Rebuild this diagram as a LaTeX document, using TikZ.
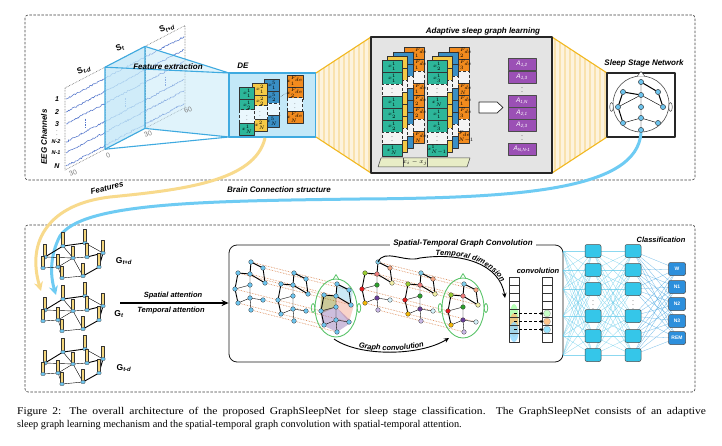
\documentclass[tikz,border=0pt]{standalone}
\usepackage{fontspec}
\setmainfont{Liberation Serif}
\setsansfont{Liberation Sans}
\usetikzlibrary{arrows.meta,shapes.geometric,decorations.pathmorphing,decorations.text,calc}
\definecolor{eegblue}{HTML}{5577CC}
\definecolor{boxblue}{HTML}{C3E8F8}
\definecolor{edgeblue}{HTML}{3FAAE0}
\definecolor{cream}{HTML}{FDF3DE}
\definecolor{creamline}{HTML}{F9E2AE}
\definecolor{goldline}{HTML}{F2B81F}
\definecolor{cgreen}{HTML}{2DB69A}
\definecolor{cyellow}{HTML}{F5C945}
\definecolor{cblue}{HTML}{3A8FC5}
\definecolor{corange}{HTML}{F28B1E}
\definecolor{cpurple}{HTML}{9B50B5}
\definecolor{graybox}{HTML}{E4E4E4}
\definecolor{nodeblue}{HTML}{6CC4EE}
\definecolor{featyellow}{HTML}{F8DA8C}
\definecolor{brainblue}{HTML}{6ECBF3}
\definecolor{barfill}{HTML}{F4D67C}
\definecolor{dotorange}{HTML}{D9824A}
\definecolor{headgreen}{HTML}{5BC46A}
\definecolor{nncyan}{HTML}{35C6E9}
\definecolor{nnline}{HTML}{5CC8EA}
\definecolor{outblue}{HTML}{2C8FDC}
\definecolor{barpale}{HTML}{E8EDC6}
\definecolor{kT}{HTML}{7FCDEB}
\definecolor{kUR}{HTML}{F4A582}
\definecolor{kC}{HTML}{F07C7C}
\definecolor{kUL}{HTML}{9ACD32}
\definecolor{kR}{HTML}{F2F0A6}
\definecolor{kM}{HTML}{2CA02C}
\definecolor{kL}{HTML}{E31A1C}
\definecolor{kLM}{HTML}{6A3D9A}
\definecolor{kLR}{HTML}{D4F1F9}
\definecolor{kLL}{HTML}{F2B705}
\definecolor{kB}{HTML}{C9B8E6}
\definecolor{polyblue}{HTML}{8FD0EA}
\definecolor{polyolive}{HTML}{8C8A1E}
\definecolor{polysalmon}{HTML}{F0937A}
\definecolor{polypurple}{HTML}{7D55A8}
\newcommand\arcfont{\sffamily\bfseries\itshape\fontsize{7.5}{9}\selectfont}
\tikzset{
  lbl/.style={font=\sffamily\bfseries\itshape\fontsize{8}{9}\selectfont, inner sep=1pt},
  slbl/.style={font=\sffamily\bfseries\fontsize{8.5}{9}\selectfont, inner sep=1pt},
  chl/.style={font=\sffamily\bfseries\itshape\fontsize{7}{8}\selectfont, inner sep=0.5pt},
  axl/.style={font=\sffamily\fontsize{7}{8}\selectfont, text=black!50, inner sep=0.5pt},
  dashbox/.style={dash pattern=on 2.5pt off 1.5pt, draw=black!75, line width=0.6pt, rounded corners=3pt},
  decell/.style={draw=black!80, line width=0.45pt, minimum width=15pt, minimum height=12pt, inner sep=0pt, font=\fontsize{5}{6}\selectfont},
  dotc/.style={fill=white!65!boxblue, densely dashed},
  acell/.style={draw=black!80, line width=0.45pt, minimum width=20pt, minimum height=12pt, inner sep=0pt},
  dotcell/.style={fill=graybox!40!white, densely dashed},
  arow0/.style={}, arow1/.style={}, arow2/.style={dotcell}, arow3/.style={},
  arow4/.style={}, arow5/.style={}, arow6/.style={dotcell}, arow7/.style={},
  acelltxt/.style={font=\fontsize{4.5}{5}\selectfont, inner sep=0pt},
  pcell/.style={draw=black!70, fill=cpurple, line width=0.45pt, minimum width=28pt, minimum height=12pt, inner sep=0pt, text=white, font=\sffamily\itshape\fontsize{6.5}{7}\selectfont},
  snode/.style={circle, draw=black!75, fill=nodeblue, line width=0.4pt, minimum size=5pt, inner sep=0pt},
  bnode/.style={circle, draw=black!75, line width=0.35pt, minimum size=4.6pt, inner sep=0pt},
  gbar/.style={rectangle, fill=barfill, draw=black!80, line width=0.35pt, minimum width=3pt, inner sep=0pt},
  gdot/.style={ellipse, fill=nodeblue, draw=black!70, line width=0.3pt, minimum width=4.5pt, minimum height=3.5pt, inner sep=0pt},
  nnbox/.style={draw=black!70, fill=nncyan, rounded corners=2pt, line width=0.5pt, minimum width=16pt, minimum height=13pt, inner sep=0pt},
  outbox/.style={draw=black!70, fill=outblue, rounded corners=2pt, line width=0.5pt, minimum width=17pt, minimum height=13pt, inner sep=0pt, text=white, font=\sffamily\bfseries\fontsize{5}{6}\selectfont},
  nnl/.style={draw=nnline, line width=0.3pt, opacity=0.7},
  orl/.style={draw=dotorange, densely dotted, line width=0.6pt},
  thickedge/.style={line width=0.9pt},
  thinedge/.style={line width=0.4pt},
}
\def\plaincols{T/nodeblue,UR/nodeblue,C/nodeblue,UL/nodeblue,R/nodeblue,M/nodeblue,L/nodeblue,LM/nodeblue,LR/nodeblue,LL/nodeblue,B/nodeblue}
\def\richcols{T/kT,UR/kUR,C/kC,UL/kUL,R/kR,M/kM,L/kL,LM/kLM,LR/kLR,LL/kLL,B/kB}
\newcommand\brainpts[3]{%
 \begin{scope}[shift={(#1,#2)}]
  \coordinate (#3T) at (0,0);
  \coordinate (#3UR) at (12,6);
  \coordinate (#3C) at (-1,12);
  \coordinate (#3UL) at (-13,11);
  \coordinate (#3R) at (14,21);
  \coordinate (#3M) at (-1,23);
  \coordinate (#3L) at (-16,27);
  \coordinate (#3LM) at (-1,36);
  \coordinate (#3LR) at (12,38);
  \coordinate (#3LL) at (-13,41);
  \coordinate (#3B) at (0,48);
 \end{scope}}
\newcommand\brainlinks[2]{%
 \draw[thickedge] (#1T)--(#1C)--(#1UL)--(#1L)--(#1LL) (#1T)--(#1UR)--(#1R) (#1C)--(#1R);
 \draw[thinedge] (#1C)--(#1M)--(#1LM)--(#1B) (#1M)--(#1L) (#1LM)--(#1LR) (#1LL)--(#1LM);
 \foreach \n/\c in #2 {\node[bnode, fill=\c] (#1\n o) at (#1\n) {};}}
\newcommand\ggraph[3]{%
 \begin{scope}[shift={(#1,#2)}]
  \coordinate (#3a) at (0,0);
  \coordinate (#3b) at (18,-11);
  \coordinate (#3c) at (28,1);
  \coordinate (#3d) at (40,-14);
  \coordinate (#3e) at (42,0);
  \coordinate (#3f) at (58,-4);
  \coordinate (#3g) at (13,10);
  \coordinate (#3h) at (17,21);
  \coordinate (#3i) at (38,19);
  \coordinate (#3j) at (54,10);
  \coordinate (#3k) at (-2,11);
 \end{scope}
 \draw[line width=0.9pt] (#3a)--(#3b)--(#3d) (#3e)--(#3f) (#3i)--(#3j)--(#3f) (#3a)--(#3k);
 \draw[line width=0.4pt] (#3a)--(#3c)--(#3e) (#3b)--(#3c) (#3d)--(#3f) (#3k)--(#3g)--(#3c) (#3g)--(#3h)--(#3i) (#3c)--(#3i) (#3d)--(#3e);
 \foreach \n/\h in {d/14,b/14,f/13,a/13,c/12,e/14,k/12,g/13,j/14,i/13,h/12}{%
   \node[gbar, minimum height=\h pt, anchor=south] (#3\n bar) at (#3\n) {};
   \node[gdot] (#3\n dot) at (#3\n) {};}}
\newcommand\adgroup[4]{%
 \foreach \r in {0,...,7}{\node[acell, fill=corange, arow\r] (#2o\r) at ({#1+22},{53+12*\r}) {};}
 \foreach \r/\s in {#4}{\node[acelltxt] at ($(#2o\r.east)+(-5,0)$) {$x^{F_{de}}_{\s}$};}
 \foreach \r in {0,...,7}{\node[acell, fill=cblue, arow\r] (#2b\r) at ({#1+11},{58+12*\r}) {};}
 \foreach \r in {0,...,7}{\node[acell, fill=cyellow, arow\r] (#2y\r) at ({#1+5},{62+12*\r}) {};}
 \foreach \r in {0,...,7}{\node[acell, fill=cgreen, arow\r] (#2g\r) at (#1,{66+12*\r}) {};}
 \foreach \r/\s in {#3}{\node[acelltxt, font=\fontsize{5.5}{6}\selectfont] at (#2g\r) {$x^{1}_{\s}$};}
 \foreach \r in {2,6}{\node[acelltxt, font=\fontsize{6}{6}\selectfont] at (#2g\r) {$\vdots$};}}
\begin{document}
\begin{tikzpicture}[x=1pt,y=-1pt,line join=round]
\useasboundingbox (0,0) rectangle (722,446);
\fill[white] (0,0) rectangle (722,446);

% frames
\draw[dashbox] (25,15) rectangle (695,180);
\draw[dashbox] (25,225) rectangle (695,392);

%%%%% EEG planes
\coordinate (pTL) at (65,88); \coordinate (pTR) at (185,25.6);
\coordinate (pBR) at (185,107.6); \coordinate (pBL) at (65,170);
\foreach \o in {11,24,36,54,65,78}{
  \draw[eegblue, line width=0.55pt, decorate, decoration={random steps, segment length=1.2pt, amplitude=0.8pt}] (66,{88+\o}) -- (184,{25.6+\o});
}
\foreach \xx in {85,125,165}{
  \draw[eegblue, densely dotted, line width=0.7pt] (\xx,{88-0.52*(\xx-65)+41}) -- (\xx,{88-0.52*(\xx-65)+50});
}
\draw[densely dotted, black!60, line width=0.6pt] (pTL)--(pTR)--(pBR)--(pBL)--cycle;
\draw[densely dotted, black!60, line width=0.6pt] (105,67.2)--(105,149.2) (145,46.4)--(145,128.4);

% feature extraction prism
\fill[boxblue, opacity=0.5] (105,67.2)--(145,46.4)--(229,73)--(229,137)--(145,128.4)--(105,149.2)--cycle;
\fill[boxblue, opacity=0.55] (105,67.2)--(145,46.4)--(145,128.4)--(105,149.2)--cycle;
\draw[edgeblue, line width=1.1pt] (105,67.2)--(145,46.4)--(145,128.4)--(105,149.2)--cycle;
\draw[edgeblue, line width=1.1pt] (105,67.2)--(229,73) (145,46.4)--(229,73) (105,149.2)--(229,137) (145,128.4)--(229,137);

% labels of EEG part
\node[slbl, rotate=22] (slA) at (84,70) {S\textsubscript{\itshape t-d}};
\node[slbl, rotate=22] (slB) at (120,48) {S\textsubscript{\itshape t}};
\node[slbl, rotate=22] (slC) at (167,28) {S\textsubscript{\itshape t+d}};
\node[chl] (ch1) at (57,99) {1};
\node[chl] (ch2) at (57,112) {2};
\node[chl] (ch3) at (57,124) {3};
\node[chl, font=\fontsize{5}{5}\selectfont] (chd) at (57,132) {$\vdots$};
\node[chl, font=\sffamily\bfseries\itshape\fontsize{5.5}{6}\selectfont] (ch4) at (56,142) {N-2};
\node[chl, font=\sffamily\bfseries\itshape\fontsize{5.5}{6}\selectfont] (ch5) at (56,153) {N-1};
\node[chl] (ch6) at (57,166) {N};
\node[lbl, rotate=90] (eegl) at (44,137) {EEG Channels};
\node[axl, rotate=25] (ax0) at (108,155) {0};
\node[axl, rotate=25] (ax30) at (148,134) {30};
\node[axl, rotate=25] (ax60) at (188,110) {60};
\node[axl, rotate=25] (axm) at (73,173) {30};
\node[lbl] (fe) at (168,67) {Feature extraction};

%%%%% DE box
\node[draw=edgeblue, fill=boxblue, line width=1.1pt, minimum width=87pt, minimum height=64pt, inner sep=0pt] (de) at (272.5,105) {};
\node[lbl] (delbl) at (243,66) {DE};
\node[decell, fill=cblue] (deb1) at (272,85) {$x^{5}_{1}$};
\node[decell, fill=cblue] (deb2) at (272,97) {$x^{5}_{2}$};
\node[decell, dotc] (deb3) at (272,109) {};
\node[decell, fill=cblue] (deb4) at (272,121) {$x^{5}_{N}$};
\node[decell, fill=cyellow] (dey1) at (260,89) {$x^{2}_{1}$};
\node[decell, fill=cyellow] (dey2) at (260,101) {$x^{2}_{2}$};
\node[decell, dotc] (dey3) at (260,113) {$\vdots$};
\node[decell, fill=cyellow] (dey4) at (260,125) {$x^{2}_{N}$};
\node[decell, fill=cgreen] (deg1) at (247,93) {$x^{1}_{1}$};
\node[decell, fill=cgreen] (deg2) at (247,105) {$x^{1}_{2}$};
\node[decell, dotc] (deg3) at (247,117) {$\vdots$};
\node[decell, fill=cgreen] (deg4) at (247,129) {$x^{1}_{N}$};
\node[decell, fill=corange] (deo1) at (295,81) {$x^{F_{de}}_{1}$};
\node[decell, fill=corange] (deo2) at (295,93) {$x^{F_{de}}_{2}$};
\node[decell, dotc] (deo3) at (295,105) {$\vdots$};
\node[decell, fill=corange] (deo4) at (295,117) {$x^{F_{de}}_{N}$};
\draw[densely dotted, black!70, line width=0.5pt] (deb2.east) -- (deo2.west);

%%%%% cream frustums
\begin{scope}
 \clip (316,73)--(371,37)--(371,173)--(316,137)--cycle;
 \fill[cream] (316,37) rectangle (371,173);
 \foreach \xx in {319,324,...,371}{\draw[creamline, line width=1.6pt] (\xx,37)--(\xx,173);}
\end{scope}
\draw[goldline, line width=1.1pt] (316,73)--(371,37) (316,137)--(371,173);
\begin{scope}
 \clip (552,37)--(607,73)--(607,137)--(552,173)--cycle;
 \fill[cream] (552,37) rectangle (607,173);
 \foreach \xx in {555,560,...,607}{\draw[creamline, line width=1.6pt] (\xx,37)--(\xx,173);}
\end{scope}
\draw[goldline, line width=1.1pt] (552,37)--(607,73) (552,173)--(607,137);

%%%%% Adaptive sleep graph learning
\node[draw=black!85, fill=graybox, line width=1.1pt, minimum width=181pt, minimum height=136pt, inner sep=0pt] (adb) at (461.5,105) {};
\node[lbl] (adlbl) at (483,31) {Adaptive sleep graph learning};
\adgroup{392}{aga}{0/1,1/1,3/1,4/2,5/2,7/N}{0/1,1/1,3/1,4/2,5/2,7/N}
\adgroup{437}{agb}{0/2,1/3,3/N,4/1,5/3,7/N-1}{0/2,1/3,3/N,4/1,5/3,7/N-1}
\draw[fill=barpale, draw=black!70, line width=0.5pt] (381,158)--(470,158)--(467,167)--(378,167)--cycle;
\draw[black!70, line width=0.5pt] (403,158)--(403,167) (427,158)--(427,167);
\node[font=\fontsize{6.5}{7}\selectfont, inner sep=0pt] (xij) at (415,162.5) {$x_i - x_j$};
\draw[fill=white, draw=black!85, line width=0.7pt] (479,102)--(497,102)--(503,107.5)--(497,113)--(479,113)--cycle;
\node[pcell] (pa1) at (522,64.5) {A\textsubscript{1,2}};
\node[pcell] (pa2) at (522,77.5) {A\textsubscript{1,3}};
\node[font=\fontsize{6}{6}\selectfont, inner sep=0pt] (pad1) at (522,89.5) {$\vdots$};
\node[pcell] (pa3) at (522,101) {A\textsubscript{1,N}};
\node[pcell] (pa4) at (522,113) {A\textsubscript{2,1}};
\node[pcell] (pa5) at (522,125.5) {A\textsubscript{2,3}};
\node[font=\fontsize{6}{6}\selectfont, inner sep=0pt] (pad2) at (522,137.5) {$\vdots$};
\node[pcell] (pa6) at (522,149) {A\textsubscript{N,N-1}};

%%%%% Sleep stage network
\node[draw=black!85, fill=white, line width=1.1pt, minimum width=68pt, minimum height=64pt, inner sep=0pt] (ssn) at (641,105) {};
\node[lbl] (ssnlbl) at (644,63) {Sleep Stage Network};
\node[circle, draw=black!70, line width=0.6pt, minimum size=56pt, inner sep=0pt] (sshead) at (641,104) {};
\draw[black!70, line width=0.5pt, fill=white] (611.5,107) ellipse (1.8 and 4.5);
\draw[black!70, line width=0.5pt, fill=white] (670.5,107) ellipse (1.8 and 4.5);
\draw[black!70, line width=0.5pt, fill=white] (637,76.5)--(641,71.5)--(645,76.5);
\node[snode] (sT) at (641,82) {};
\node[snode] (sUL) at (623,92) {};
\node[snode] (sUR) at (658,92) {};
\node[snode] (sC) at (641,95) {};
\node[snode] (sL) at (618,107) {};
\node[snode] (sM) at (641,107) {};
\node[snode] (sR) at (663,107) {};
\node[snode] (sLM) at (641,118) {};
\node[snode] (sLL) at (623,123) {};
\node[snode] (sLR) at (658,123) {};
\node[snode] (sB) at (641,130) {};
\draw[line width=1pt] (sT)--(sUR)--(sR) (sUL)--(sC) (sUL)--(sL)--(sLL);
\draw[line width=0.45pt] (sT)--(sC)--(sM)--(sLM)--(sB) (sC)--(sL) (sC)--(sR) (sLM)--(sLL) (sLM)--(sLR);
\foreach \n in {sT,sUL,sUR,sC,sL,sM,sR,sLM,sLL,sLR,sB}{\node[snode] at (\n) {};}

%%%%% curved connectors
\coordinate (fstart) at (265,138);
\coordinate (fend) at (41,291);
\coordinate (bend) at (56,295);
\draw[featyellow, line width=3pt, -{Stealth[length=9pt,width=9pt]}] (fstart) .. controls (255,182) and (180,190) .. (110,197) .. controls (50,204) and (26,240) .. (fend);
\draw[brainblue, line width=3pt, -{Stealth[length=9pt,width=9pt]}] (sB.south) .. controls (637,190) and (520,198) .. (360,199) .. controls (200,201) and (82,203) .. (60,236) .. controls (50,255) and (50,275) .. (bend);
\node[lbl, rotate=14] (featl) at (107,188) {Features};
\node[lbl] (brainl) at (279,190) {Brain Connection structure};

%%%%% G graphs
\ggraph{45}{257}{ga}
\ggraph{45}{310}{gb}
\ggraph{45}{363}{gc}
\node[slbl] (glA) at (124,261) {G\textsubscript{\itshape t+d}};
\node[slbl] (glB) at (119,314) {G\textsubscript{\itshape t}};
\node[slbl] (glC) at (124,368) {G\textsubscript{\itshape t-d}};

%%%%% STGC box
\node[draw=black!90, rounded corners=8pt, line width=0.8pt, minimum width=334pt, minimum height=117pt, inner sep=0pt] (stgc) at (396,303.5) {};
\node[lbl, fill=white, inner xsep=3pt] (stgclbl) at (463,243.5) {Spatial-Temporal Graph Convolution};
\coordinate (sa0) at (120,303);
\draw[line width=1.6pt, -{Stealth[length=7pt,width=6pt]}] (sa0) -- (stgc.west |- sa0);
\node[lbl, font=\sffamily\bfseries\itshape\fontsize{7.5}{9}\selectfont] (spl) at (173,296) {Spatial attention};
\node[lbl, font=\sffamily\bfseries\itshape\fontsize{7.5}{9}\selectfont] (tpl) at (171,311) {Temporal attention};

% graphs inside
\brainpts{251}{262}{pa}
\brainpts{294}{273}{pb}
\brainpts{337}{284}{ha}
\foreach \n in {T,UR,UL,R,L,LR,LL,B,C}{\draw[orl] (pa\n) -- (ha\n);}
\brainlinks{pa}{\plaincols}
\brainlinks{pb}{\plaincols}
\node[ellipse, draw=headgreen, line width=0.9pt, minimum width=42pt, minimum height=58pt, inner sep=0pt] (head1) at (336,308) {};
\draw[headgreen, line width=0.8pt] ($(head1.west)+(-1.5,0)$) ellipse (1.8 and 4.5);
\draw[headgreen, line width=0.8pt] ($(head1.east)+(1.5,0)$) ellipse (1.8 and 4.5);
\draw[headgreen, line width=0.8pt] ($(head1.north)+(-3,1)$) -- ($(head1.north)+(0,-4)$) -- ($(head1.north)+(3,1)$);
\fill[polyblue, opacity=0.45] (haT)--($(haUR)+(4,0)$)--(haR)--(haC)--cycle;
\fill[polyolive, opacity=0.45] ($(haUL)+(-3,0)$)--(haC)--(haM)--($(haL)+(-1,3)$)--cycle;
\fill[polysalmon, opacity=0.4] (haC)--($(haR)+(3,0)$)--(haLR)--(haM)--cycle;
\fill[polypurple, opacity=0.38] (haM)--($(haLR)+(3,0)$)--(haB)--($(haLL)+(-2,0)$)--(haL)--cycle;
\brainlinks{ha}{\plaincols}

\brainpts{378}{262}{pc}
\brainpts{421}{273}{pd}
\brainpts{464}{284}{hb}
\foreach \n in {T,UR,UL,R,L,LR,LL,B,C}{\draw[orl] (pc\n) -- (hb\n);}
\brainlinks{pc}{\richcols}
\brainlinks{pd}{\richcols}
\node[ellipse, draw=headgreen, line width=0.9pt, minimum width=42pt, minimum height=60pt, inner sep=0pt] (head2) at (463,308) {};
\draw[headgreen, line width=0.8pt] ($(head2.west)+(-1.5,0)$) ellipse (1.8 and 4.5);
\draw[headgreen, line width=0.8pt] ($(head2.east)+(1.5,0)$) ellipse (1.8 and 4.5);
\draw[headgreen, line width=0.8pt] ($(head2.north)+(-3,1)$) -- ($(head2.north)+(0,-4)$) -- ($(head2.north)+(3,1)$);
\brainlinks{hb}{\richcols}

% curved arrows with text
\coordinate (tdmid) at (420,258);
\coordinate (tdend) at (505,298);
\draw[line width=0.9pt] (pcT) .. controls (384,248) and (405,263) .. (tdmid);
\draw[line width=0.9pt, -{Stealth[length=5pt,width=4.5pt]}] (tdmid) .. controls (462,252) and (500,264) .. (tdend);
\path[decorate, decoration={text along path, text={|\arcfont|Temporal dimension}, text align=center, raise=1.5pt}] (tdmid) .. controls (462,252) and (500,264) .. (tdend);
\coordinate (gv0) at (334,339);
\coordinate (gv1) at (449,338);
\draw[line width=0.9pt, -{Stealth[length=5pt,width=4.5pt]}] (gv0) .. controls (360,357) and (420,356) .. (gv1);
\path[decorate, decoration={text along path, text={|\arcfont|Graph convolution}, text align=center, raise=1.5pt}] (gv0) .. controls (360,357) and (420,356) .. (gv1);

% convolution columns
\node[lbl, font=\sffamily\bfseries\itshape\fontsize{7.5}{9}\selectfont] (convl) at (538,271) {convolution};
\begin{scope}
 \clip (509,277) rectangle (519,342);
 \fill[green!35!white, opacity=0.8] (514,318) ellipse (4.5 and 14);
 \fill[orange!55!white, opacity=0.75] (514,325) ellipse (4.5 and 12);
 \fill[blue!35!cyan!45!white, opacity=0.8] (514,332) ellipse (4.5 and 10);
\end{scope}
\foreach \i in {0,...,7}{
  \node[draw=black!80, line width=0.5pt, minimum width=10pt, minimum height=8.1pt, inner sep=0pt] (ca\i) at (514,{281.05+8.1*\i}) {};
  \node[draw=black!80, line width=0.5pt, minimum width=10pt, minimum height=8.1pt, inner sep=0pt] (cb\i) at (547,{281.05+8.1*\i}) {};
}
\node[circle, fill=green!22!white, draw=black!40, line width=0.3pt, minimum size=7pt, inner sep=0pt] (cc4) at (cb4) {};
\node[circle, fill=orange!45!white, draw=black!40, line width=0.3pt, minimum size=7pt, inner sep=0pt] (cc5) at (cb5) {};
\node[circle, fill=blue!25!cyan!40!white, draw=black!40, line width=0.3pt, minimum size=7pt, inner sep=0pt] (cc6) at (cb6) {};
\foreach \i in {4,5,6}{\draw[densely dashed, line width=0.5pt, -{Stealth[length=3pt,width=3pt]}] (ca\i.center) -- (cc\i.west);}

%%%%% classification network
\foreach \i/\yy in {1/251,2/270,3/289,4/316,5/336,6/355}{
  \coordinate (ns\i) at (563,\yy);
  \coordinate (na\i) at (593,\yy);
  \coordinate (nb\i) at (633,\yy);
}
\foreach \i/\yy in {1/269,2/287,3/304,4/321,5/338}{\coordinate (no\i) at (677,\yy);}
\foreach \i in {1,...,6}{\foreach \j in {1,...,6}{\draw[nnl] (ns\i) -- (na\j); \draw[nnl] (na\i) -- (nb\j);}}
\foreach \i in {1,...,6}{\foreach \j in {1,...,5}{\draw[nnl, draw=outblue!70!nnline] (nb\i) -- (no\j);}}
\foreach \i in {1,...,6}{\node[nnbox] (nba\i) at (na\i) {}; \node[nnbox] (nbb\i) at (nb\i) {};}
\node[font=\fontsize{6}{6}\selectfont, inner sep=0pt] (nd1) at (593,302.5) {$\vdots$};
\node[font=\fontsize{6}{6}\selectfont, inner sep=0pt] (nd2) at (633,302.5) {$\vdots$};
\node[outbox] (ow) at (no1) {W};
\node[outbox] (on1) at (no2) {N1};
\node[outbox] (on2) at (no3) {N2};
\node[outbox] (on3) at (no4) {N3};
\node[outbox] (orem) at (no5) {REM};
\node[lbl, font=\sffamily\bfseries\itshape\fontsize{7.5}{9}\selectfont] (clsl) at (661,240) {Classification};

%%%%% caption
\node[anchor=base west, inner sep=0pt, font=\fontsize{10.3}{12}\selectfont] (cap1) at (17,414) {\scalebox{1.12}[1]{\makebox[615pt][s]{Figure 2: The overall architecture of the proposed GraphSleepNet for sleep stage classification. The GraphSleepNet consists of an adaptive}}};
\node[anchor=base west, inner sep=0pt, font=\fontsize{10.3}{12}\selectfont] (cap2) at (17,427) {sleep graph learning mechanism and the spatial-temporal graph convolution with spatial-temporal attention.};
\end{tikzpicture}
\end{document}
